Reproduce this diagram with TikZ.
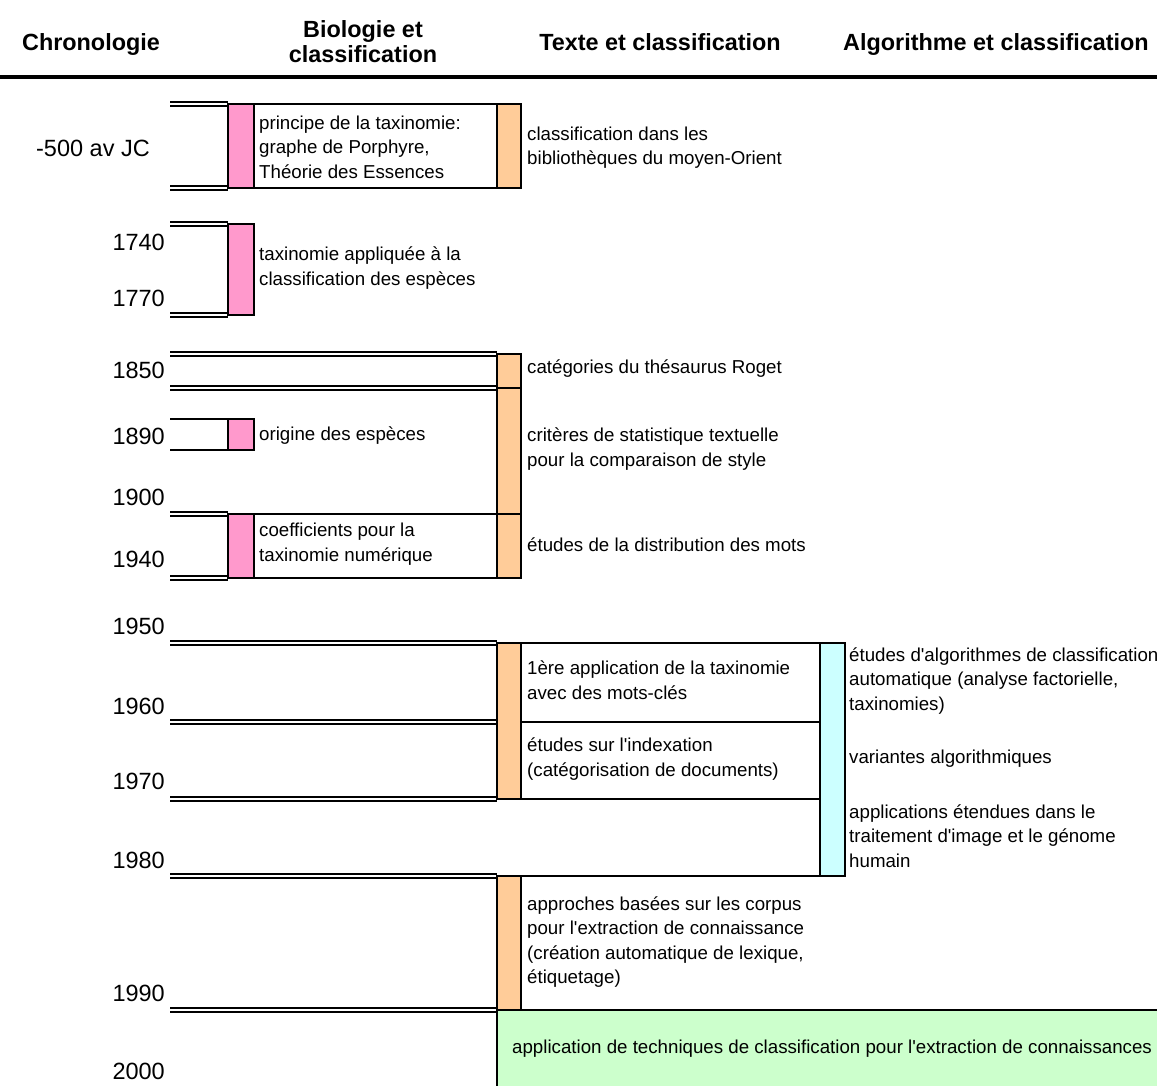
\documentclass[tikz,border=0pt]{standalone}
\usepackage{fontspec}
\setmainfont{Liberation Sans}[Ligatures=TeXOff]
\definecolor{biocol}{HTML}{FF99CC}
\definecolor{txtcol}{HTML}{FFCC99}
\definecolor{algocol}{HTML}{CCFFFF}
\definecolor{jointcol}{HTML}{CCFFCC}
\begin{document}
\begin{tikzpicture}[x=1pt,y=-1pt,
  hdr/.style={font=\fontsize{23.4}{25}\selectfont\bfseries, align=center, inner sep=0},
  yr/.style={font=\fontsize{23.5}{26}\selectfont, anchor=east, inner sep=0},
  note/.style={font=\fontsize{18.7}{24.5}\selectfont, align=left, anchor=west, inner sep=0},
  boxline/.style={draw=black, line width=2.2pt},
  dbl/.style={draw=black, double=white, double distance=2.2pt, line width=1.6pt},
  sgl/.style={draw=black, line width=2pt}]
\useasboundingbox (0,0) rectangle (1157,1086);

% column headings and rule
\node[hdr, anchor=base] (hchrono) at (91,50.4) {Chronologie};
\node[hdr] (hbio) at (363,42) {Biologie et\\classification};
\node[hdr, anchor=base] (htxt) at (660,50.4) {Texte et classification};
\node[hdr, anchor=base] (halgo) at (996,50.4) {Algorithme et classification};
\draw[line width=3.5pt] (0,77) -- (1157,77);

% dates
\node[yr] (y500) at (150,148) {-500 av JC};
\node[yr] (y1740) at (165,242) {1740};
\node[yr] (y1770) at (165,298) {1770};
\node[yr] (y1850) at (165,370) {1850};
\node[yr] (y1890) at (165,436) {1890};
\node[yr] (y1900) at (165,497) {1900};
\node[yr] (y1940) at (165,559) {1940};
\node[yr] (y1950) at (165,626) {1950};
\node[yr] (y1960) at (165,706) {1960};
\node[yr] (y1970) at (165,781) {1970};
\node[yr] (y1980) at (165,860) {1980};
\node[yr] (y1990) at (165,993) {1990};
\node[yr] (y2000) at (165,1071) {2000};

% period separators (double rules)
\draw[dbl] (170,104) -- (228,104);
\draw[dbl] (170,188) -- (228,188);
\draw[dbl] (170,224) -- (228,224);
\draw[dbl] (170,315) -- (228,315);
\draw[dbl] (170,354) -- (497,354);
\draw[dbl] (170,388) -- (497,388);
\draw[sgl] (170,419) -- (228,419);
\draw[sgl] (170,450) -- (228,450);
\draw[dbl] (170,514) -- (228,514);
\draw[dbl] (170,578) -- (228,578);
\draw[dbl] (170,643) -- (497,643);
\draw[dbl] (170,722) -- (497,722);
\draw[dbl] (170,799) -- (497,799);
\draw[dbl] (170,876) -- (497,876);
\draw[dbl] (170,1010) -- (497,1010);

% -500
\draw[boxline, fill=biocol] (228,104) rectangle (254,188);
\draw[boxline] (254,104) rectangle (497,188);
\draw[boxline, fill=txtcol] (497,104) rectangle (521,188);
% 1740-1770
\draw[boxline, fill=biocol] (228,224) rectangle (254,315);
% 1850
\draw[boxline, fill=txtcol] (497,354) rectangle (521,388);
% 1850-1900
\draw[boxline, fill=txtcol] (497,388) rectangle (521,514);
% 1890
\draw[boxline, fill=biocol] (228,419) rectangle (254,450);
% 1900-1940
\draw[boxline, fill=biocol] (228,514) rectangle (254,578);
\draw[boxline] (254,514) rectangle (497,578);
\draw[boxline, fill=txtcol] (497,514) rectangle (521,578);
% 1950-1980
\draw[boxline, fill=txtcol] (497,643) rectangle (521,799);
\draw[boxline] (521,643) rectangle (820,722);
\draw[boxline] (521,722) rectangle (820,799);
\draw[boxline] (497,876) -- (820,876);
\draw[boxline, fill=algocol] (820,643) rectangle (845,876);
% 1980-1990
\draw[boxline, fill=txtcol] (497,876) rectangle (521,1010);
% 1990-2000
\draw[boxline, fill=jointcol] (497,1010) rectangle (1165,1095);

% entries
\node[note] (porphyre) at (259,147) {principe de la taxinomie:\\graphe de Porphyre,\\Théorie des Essences};
\node[note] (biblio) at (527,147.5) {classification dans les\\bibliothèques du moyen-Orient};
\node[note] (especes) at (259,268) {taxinomie appliquée à la\\classification des espèces};
\node[note] (roget) at (527,369) {catégories du thésaurus Roget};
\node[note] (origine) at (259,436) {origine des espèces};
\node[note] (style) at (527,449) {critères de statistique textuelle\\pour la comparaison de style};
\node[note] (coeff) at (259,544) {coefficients pour la\\taxinomie numérique};
\node[note] (distrib) at (527,545) {études de la distribution des mots};
\node[note] (motscles) at (527,680) {1ère application de la taxinomie\\avec des mots-clés};
\node[note] (indexation) at (527,759) {études sur l'indexation\\(catégorisation de documents)};
\node[note] (algos) at (849,681) {études d'algorithmes de classification\\automatique (analyse factorielle,\\taxinomies)};
\node[note] (variantes) at (849,759) {variantes algorithmiques};
\node[note] (genome) at (849,836) {applications étendues dans le\\traitement d'image et le génome\\humain};
\node[note] (corpus) at (527,942) {approches basées sur les corpus\\pour l'extraction de connaissance\\(création automatique de lexique,\\étiquetage)};
\node[note] (extraction) at (512,1049) {application de techniques de classification pour l'extraction de connaissances};
\end{tikzpicture}
\end{document}
